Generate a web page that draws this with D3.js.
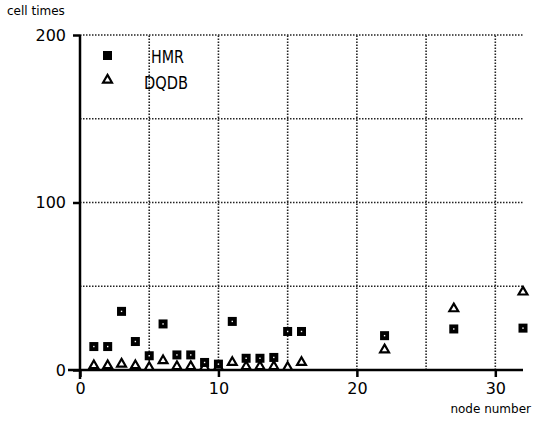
<!DOCTYPE html>
<html>
<head>
<meta charset="utf-8">
<script src="https://cdn.jsdelivr.net/npm/d3@7"></script>
<style>
  body { margin: 0; background: #fff; }
  text { font-family: "DejaVu Sans", sans-serif; fill: #000; }
</style>
</head>
<body>
<div id="chart"></div>
<script>
// node numbers and cell times
const hmrNodes = [1, 2, 3, 4, 5, 6, 7, 8, 9, 10, 11, 12, 13, 14, 15, 16, 22, 27, 32];
const hmrTimes = [14, 14, 35, 17, 8.5, 27.5, 9, 9, 4.5, 3.5, 29, 7, 7, 7.5, 23, 23, 20.5, 24.5, 25];
const dqdbNodes = [1, 2, 3, 4, 5, 6, 7, 8, 9, 10, 11, 12, 13, 14, 15, 16, 22, 27, 32];
const dqdbTimes = [2, 2, 3, 2, 1, 5, 1.5, 1.5, 1, 1, 4, 1.5, 1.5, 1.5, 1, 4, 11.5, 36, 46];
const xTicks = [0, 10, 20, 30];
const yTicks = [0, 100, 200];
const xGrid = [5, 10, 15, 20, 25, 30];
const yGrid = [50, 100, 150, 200];

const width = 535, height = 428;
const svg = d3.select('#chart').append('svg')
	.attr('width', width)
	.attr('height', height);

const x = d3.scaleLinear().domain([0, 32]).range([80, 523]);
const y = d3.scaleLinear().domain([0, 200]).range([370, 35]);

// dotted grid
svg.append('g').selectAll('line')
	.data(yGrid)
	.enter().append('line')
	.attr('x1', x(0)).attr('x2', x(32))
	.attr('y1', d => y(d)).attr('y2', d => y(d))
	.attr('stroke', '#222').attr('stroke-width', 1.6)
	.attr('stroke-dasharray', '1.5,1.5');

svg.append('g').selectAll('line')
	.data(xGrid)
	.enter().append('line')
	.attr('x1', d => x(d)).attr('x2', d => x(d))
	.attr('y1', y(0)).attr('y2', y(200))
	.attr('stroke', '#222').attr('stroke-width', 1.6)
	.attr('stroke-dasharray', '1.5,1.5');

// small hook at right end of the 50 line
svg.append('line')
	.attr('x1', x(32)).attr('x2', x(32))
	.attr('y1', y(50)).attr('y2', y(50) + 5)
	.attr('stroke', '#000').attr('stroke-width', 1.5);

// axes
const xAxis = d3.axisBottom(x).tickValues(xTicks).tickSize(7).tickPadding(6);
const yAxis = d3.axisLeft(y).tickValues(yTicks).tickSize(7).tickPadding(7);

const gx = svg.append('g')
	.attr('transform', `translate(0,${y(0)})`)
	.call(xAxis);
gx.select('.domain').remove();
gx.append('line')
	.attr('x1', 68).attr('x2', x(32))
	.attr('stroke', '#000').attr('stroke-width', 2.5);
gx.selectAll('.tick line').attr('stroke', '#000').attr('stroke-width', 2.5);
gx.selectAll('.tick text')
	.style('font-size', '16px')
	.attr('font-family', '"DejaVu Sans", sans-serif')
	.attr('fill', '#000');

const gy = svg.append('g')
	.attr('transform', `translate(${x(0)},0)`)
	.call(yAxis);
gy.select('.domain').remove();
gy.append('line')
	.attr('y1', y(200)).attr('y2', y(0) + 9)
	.attr('stroke', '#000').attr('stroke-width', 2.5);
gy.selectAll('.tick line').attr('stroke', '#000').attr('stroke-width', 2.5);
gy.selectAll('.tick text')
	.style('font-size', '16px')
	.attr('font-family', '"DejaVu Sans", sans-serif')
	.attr('fill', '#000');

svg.append('text')
	.attr('x', 7).attr('y', 15)
	.style('font-size', '12px')
	.text('cell times');

svg.append('text')
	.attr('x', 531).attr('y', 413)
	.attr('text-anchor', 'end')
	.style('font-size', '12px')
	.text('node number');

// markers
const hmr = hmrNodes.map((n, i) => ({ n: n, v: hmrTimes[i] }));
const dqdb = dqdbNodes.map((n, i) => ({ n: n, v: dqdbTimes[i] }));

const tri = d3.symbol().type(d3.symbolTriangle).size(34);

svg.append('g').selectAll('path')
	.data(dqdb)
	.enter().append('path')
	.attr('d', tri)
	.attr('transform', d => `translate(${x(d.n)},${y(d.v) - 1})`)
	.attr('fill', '#fff')
	.attr('stroke', '#000')
	.attr('stroke-width', 2.2);

const sq = svg.append('g').selectAll('g')
	.data(hmr)
	.enter().append('g')
	.attr('transform', d => `translate(${x(d.n)},${y(d.v)})`);
sq.append('rect')
	.attr('x', -4.5).attr('y', -4.5)
	.attr('width', 9).attr('height', 9)
	.attr('fill', '#000');
sq.append('rect')
	.attr('x', -0.7).attr('y', -0.7)
	.attr('width', 1.4).attr('height', 1.4)
	.attr('fill', '#fff');

// legend
const legend = svg.append('g');
legend.append('rect')
	.attr('x', 103).attr('y', 51)
	.attr('width', 9).attr('height', 9)
	.attr('fill', '#000');
legend.append('path')
	.attr('d', tri)
	.attr('transform', 'translate(107.5,80)')
	.attr('fill', '#fff')
	.attr('stroke', '#000')
	.attr('stroke-width', 2.2);
legend.append('text')
	.attr('x', 151).attr('y', 63)
	.style('font-size', '17px')
	.attr('textLength', 33)
	.attr('lengthAdjust', 'spacingAndGlyphs')
	.text('HMR');
legend.append('text')
	.attr('x', 144).attr('y', 89)
	.style('font-size', '17px')
	.attr('textLength', 44)
	.attr('lengthAdjust', 'spacingAndGlyphs')
	.text('DQDB');
</script>
</body>
</html>
